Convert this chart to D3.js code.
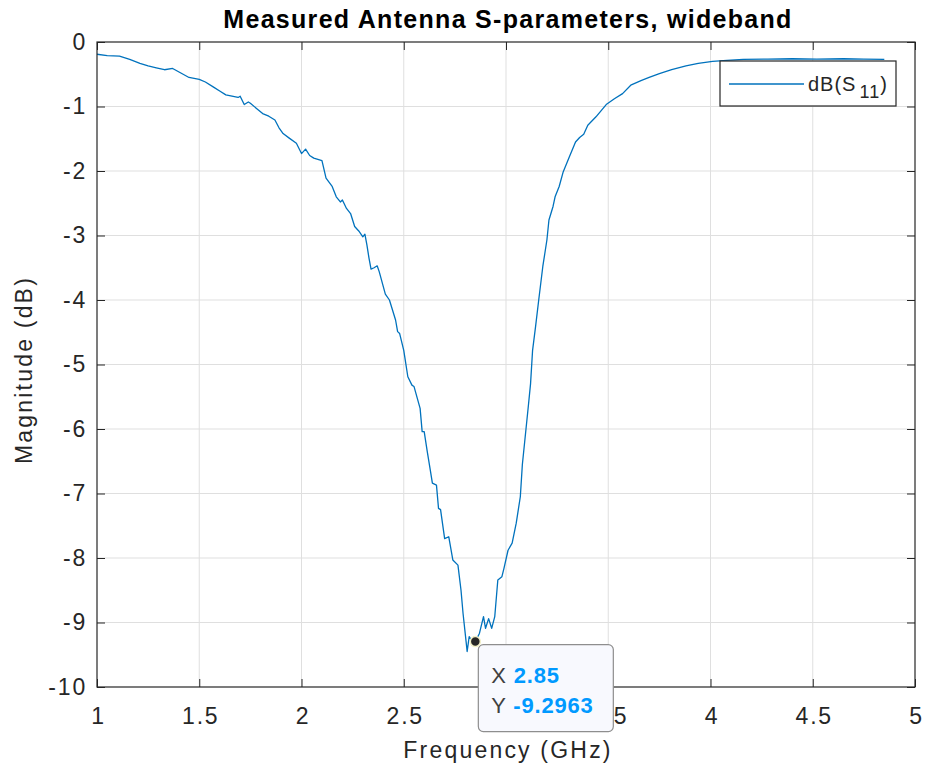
<!DOCTYPE html>
<html>
<head>
<meta charset="utf-8">
<script src="https://cdn.jsdelivr.net/npm/d3@7"></script>
<style>
  html, body { margin: 0; padding: 0; background: #fff; }
  svg { display: block; font-family: "Liberation Sans", Arial, sans-serif; }
</style>
</head>
<body>
<svg id="chart" width="926" height="770"></svg>
<script>
// ---- data ----
const freqGHz = [1.00,1.05,1.11,1.16,1.21,1.25,1.29,1.33,1.37,1.41,1.45,1.50,1.53,1.57,1.60,1.63,1.66,1.69,1.70,1.72,1.74,1.75,1.78,1.81,1.84,1.87,1.89,1.91,1.94,1.975,2.00,2.02,2.04,2.06,2.08,2.10,2.12,2.15,2.17,2.19,2.20,2.22,2.24,2.26,2.28,2.30,2.31,2.32,2.33,2.34,2.355,2.37,2.38,2.41,2.43,2.46,2.47,2.48,2.50,2.52,2.54,2.55,2.58,2.59,2.60,2.615,2.63,2.64,2.66,2.67,2.68,2.70,2.72,2.74,2.765,2.78,2.79,2.805,2.81,2.82,2.83,2.85,2.87,2.89,2.90,2.915,2.93,2.945,2.96,2.98,2.99,3.01,3.03,3.05,3.07,3.08,3.10,3.11,3.12,3.13,3.145,3.16,3.18,3.20,3.21,3.23,3.24,3.26,3.28,3.31,3.34,3.36,3.38,3.40,3.44,3.49,3.53,3.57,3.61,3.66,3.70,3.75,3.81,3.88,3.94,4.01,4.08,4.16,4.28,4.40,4.52,4.65,4.75,4.85];
const s11dB = [-0.19,-0.21,-0.22,-0.27,-0.33,-0.37,-0.40,-0.43,-0.41,-0.48,-0.55,-0.58,-0.62,-0.70,-0.76,-0.82,-0.84,-0.86,-0.84,-0.97,-0.93,-0.95,-1.03,-1.11,-1.15,-1.21,-1.33,-1.42,-1.49,-1.57,-1.73,-1.66,-1.76,-1.80,-1.82,-1.84,-2.11,-2.24,-2.40,-2.48,-2.45,-2.58,-2.66,-2.86,-2.93,-3.02,-2.98,-3.15,-3.35,-3.52,-3.50,-3.47,-3.56,-3.91,-4.00,-4.31,-4.49,-4.52,-4.78,-5.19,-5.32,-5.34,-5.68,-6.04,-6.04,-6.35,-6.64,-6.84,-6.87,-7.23,-7.25,-7.70,-7.67,-8.03,-8.11,-8.50,-8.86,-9.30,-9.45,-9.22,-9.27,-9.2963,-9.17,-8.91,-9.09,-8.94,-9.09,-8.91,-8.34,-8.29,-8.16,-7.88,-7.77,-7.46,-7.05,-6.55,-5.93,-5.62,-5.30,-4.78,-4.40,-4.00,-3.48,-3.07,-2.76,-2.55,-2.40,-2.24,-2.01,-1.78,-1.55,-1.48,-1.43,-1.29,-1.16,-0.97,-0.88,-0.80,-0.67,-0.60,-0.55,-0.49,-0.43,-0.37,-0.33,-0.30,-0.285,-0.27,-0.265,-0.26,-0.265,-0.26,-0.265,-0.27];
const xTicks = [1,1.5,2,2.5,3,3.5,4,4.5,5];
const yTicks = [0,-1,-2,-3,-4,-5,-6,-7,-8,-9,-10];
const tipX = 2.85;
const tipY = -9.2963;
const titleText = "Measured Antenna S-parameters, wideband";
const xLabel = "Frequency (GHz)";
const yLabel = "Magnitude (dB)";

// ---- layout ----
const L = 97, T = 42, R = 915, B = 687;
const svg = d3.select("#chart");
const x = d3.scaleLinear().domain([1,5]).range([L,R]);
const y = d3.scaleLinear().domain([-10,0]).range([B,T]);
const axisCol = "#262626";
const fs = 23;
const ls = "1.8px";
const fmt = d => String(d);

// grid
const g = svg.append("g");
g.selectAll(".gx").data(xTicks.slice(1,-1)).join("line")
  .attr("x1",d=>x(d)).attr("x2",d=>x(d)).attr("y1",T).attr("y2",B)
  .attr("stroke","#dfdfdf").attr("stroke-width",1);
g.selectAll(".gy").data(yTicks.slice(1,-1)).join("line")
  .attr("y1",d=>y(d)).attr("y2",d=>y(d)).attr("x1",L).attr("x2",R)
  .attr("stroke","#dfdfdf").attr("stroke-width",1);

// data line
const pts = freqGHz.map((f,i)=>[f,s11dB[i]]);
svg.append("path").datum(pts)
  .attr("d", d3.line().x(d=>x(d[0])).y(d=>y(d[1])))
  .attr("fill","none").attr("stroke","#0072BD").attr("stroke-width",1.3)
  .attr("stroke-linejoin","round");

// axes
const tk = 8;
function styleAxis(sel){
  sel.select(".domain").remove();
  sel.selectAll(".tick line").attr("stroke",axisCol).attr("stroke-width",1);
  sel.selectAll(".tick text").attr("fill",axisCol).style("font-size",fs+"px")
    .style("letter-spacing",ls)
    .style("font-family","'Liberation Sans', Arial, sans-serif");
}
const xb = svg.append("g").attr("transform",`translate(0,${B})`)
  .call(d3.axisBottom(x).tickValues(xTicks).tickFormat(fmt).tickSizeInner(-tk).tickSizeOuter(0).tickPadding(21));
styleAxis(xb);
xb.selectAll(".tick text").attr("dy","0.71em").attr("dx","1px");
const xt = svg.append("g").attr("transform",`translate(0,${T})`)
  .call(d3.axisTop(x).tickValues(xTicks).tickFormat("").tickSizeInner(-tk).tickSizeOuter(0));
styleAxis(xt);
const yl = svg.append("g").attr("transform",`translate(${L},0)`)
  .call(d3.axisLeft(y).tickValues(yTicks).tickFormat(fmt).tickSizeInner(-tk).tickSizeOuter(0).tickPadding(10));
styleAxis(yl);
const yr = svg.append("g").attr("transform",`translate(${R},0)`)
  .call(d3.axisRight(y).tickValues(yTicks).tickFormat("").tickSizeInner(-tk).tickSizeOuter(0));
styleAxis(yr);

// box
svg.append("rect").attr("x",L).attr("y",T).attr("width",R-L).attr("height",B-T)
  .attr("fill","none").attr("stroke",axisCol).attr("stroke-width",1.2);

// title and labels
svg.append("text").attr("x",508).attr("y",28).attr("text-anchor","middle")
  .attr("font-weight","bold").style("font-size","25px").style("letter-spacing","1.3px").attr("fill","#000")
  .text(titleText);
svg.append("text").attr("x",508).attr("y",758).attr("text-anchor","middle")
  .style("font-size","23px").style("letter-spacing","2.2px").attr("fill",axisCol).text(xLabel);
svg.append("text").attr("transform",`translate(32,370) rotate(-90)`)
  .attr("text-anchor","middle").style("font-size","23px").style("letter-spacing","2.2px").attr("fill",axisCol).text(yLabel);

// legend
const lg = svg.append("g");
lg.append("rect").attr("x",720).attr("y",61).attr("width",176).attr("height",45)
  .attr("fill","#fff").attr("stroke",axisCol).attr("stroke-width",1.2);
lg.append("line").attr("x1",729).attr("x2",804).attr("y1",84).attr("y2",84)
  .attr("stroke","#0072BD").attr("stroke-width",1.3);
const lt = lg.append("text").attr("x",808).attr("y",91).style("font-size","20px").style("letter-spacing","1px").attr("fill",axisCol);
lt.append("tspan").text("dB(S");
lt.append("tspan").attr("dy",7).style("font-size","18px").attr("dx",3).text("11");
lt.append("tspan").attr("dy",-7).text(")");

// datatip
const tg = svg.append("g");
tg.append("rect").attr("x",x(tipX)+3).attr("y",y(tipY)+3).attr("width",135).attr("height",87)
  .attr("rx",5).attr("fill","#f8f9fe").attr("stroke","#8e8e8e").attr("stroke-width",1.2);
tg.append("circle").attr("cx",x(tipX)).attr("cy",y(tipY)).attr("r",5)
  .attr("fill","#262626").attr("stroke","#f3f0c8").attr("stroke-width",1.5);
const t1 = tg.append("text").attr("x",x(tipX)+16).attr("y",y(tipY)+41).style("font-size","22px").style("letter-spacing","0.8px");
t1.append("tspan").attr("fill","#404040").text("X ");
t1.append("tspan").attr("fill","#0099ff").attr("font-weight","bold").text(String(tipX));
const t2 = tg.append("text").attr("x",x(tipX)+16).attr("y",y(tipY)+71).style("font-size","22px").style("letter-spacing","0.8px");
t2.append("tspan").attr("fill","#404040").text("Y ");
t2.append("tspan").attr("fill","#0099ff").attr("font-weight","bold").text(String(tipY));
</script>
</body>
</html>
